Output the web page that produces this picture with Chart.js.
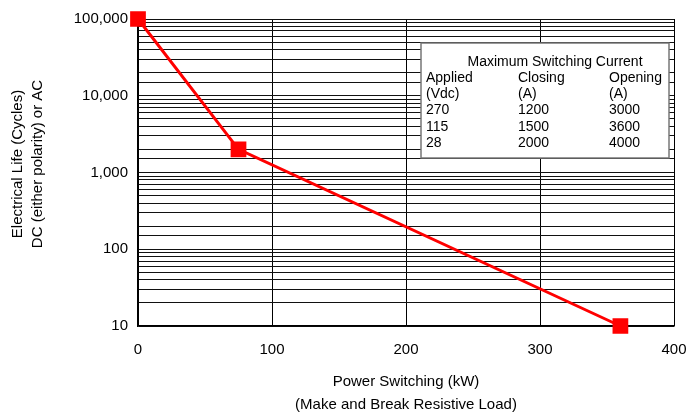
<!DOCTYPE html>
<html>
<head>
<meta charset="utf-8">
<script src="https://cdn.jsdelivr.net/npm/chart.js@4/dist/chart.umd.min.js"></script>
<style>
  body { margin: 0; background: #fff; }
  #wrap { width: 688px; height: 413px; }
</style>
</head>
<body>
<div id="wrap"><canvas id="lifeChart"></canvas></div>
<script>
const powerKw = [0, 75, 360];
const lifeCycles = [100000, 2000, 10];

const xTicks = [0, 100, 200, 300, 400];
const yTitleLines = ['Electrical Life (Cycles)', 'DC (either polarity) or AC'];
const xTitleLines = ['Power Switching (kW)', '(Make and Break Resistive Load)'];

const tableTitle = 'Maximum Switching Current';
const tableHeader = [['Applied', 'Closing', 'Opening'], ['(Vdc)', '(A)', '(A)']];
const tableVolts = ['270', '115', '28'];
const tableClosing = ['1200', '1500', '2000'];
const tableOpening = ['3000', '3600', '4000'];

const FONT = '"Liberation Sans", Arial, sans-serif';

// axis titles and the current table drawn on top
const extras = {
    id: 'extras',
    afterDraw(chart) {
        const ctx = chart.ctx;
        const area = chart.chartArea;
        ctx.save();
        ctx.fillStyle = '#000';
        ctx.font = '15px ' + FONT;
        ctx.textAlign = 'center';
        ctx.textBaseline = 'middle';

        const midX = (area.left + area.right) / 2;
        ctx.fillText(xTitleLines[0], midX, 382);
        ctx.fillText(xTitleLines[1], midX, 405);

        ctx.save();
        ctx.translate(18, 164);
        ctx.rotate(-Math.PI / 2);
        ctx.fillText(yTitleLines[0], 0, 0);
        ctx.restore();
        ctx.save();
        ctx.translate(38, 164);
        ctx.rotate(-Math.PI / 2);
        ctx.fillText(yTitleLines[1], 0, 0);
        ctx.restore();

        // table box
        const bx = 421, by = 43, bw = 248, bh = 115;
        ctx.fillStyle = '#fff';
        ctx.fillRect(bx, by, bw, bh);
        ctx.strokeStyle = '#777';
        ctx.lineWidth = 1.5;
        ctx.strokeRect(bx, by, bw, bh);

        ctx.fillStyle = '#000';
        ctx.font = '14px ' + FONT;
        ctx.fillText(tableTitle, 555, 62);

        ctx.textAlign = 'left';
        const cols = [426, 518, 609];
        let y = 78;
        tableHeader.forEach(row => {
            row.forEach((t, i) => ctx.fillText(t, cols[i], y));
            y += 16.3;
        });
        tableVolts.forEach((v, r) => {
            ctx.fillText(v, cols[0], y);
            ctx.fillText(tableClosing[r], cols[1], y);
            ctx.fillText(tableOpening[r], cols[2], y);
            y += 16.3;
        });
        ctx.restore();
    }
};

new Chart(document.getElementById('lifeChart'), {
    type: 'line',
    data: {
        datasets: [{
            data: powerKw.map((x, i) => ({ x: x, y: lifeCycles[i] })),
            borderColor: '#ff0000',
            backgroundColor: '#ff0000',
            borderWidth: 3,
            pointStyle: 'rect',
            pointRadius: 9,
            pointHoverRadius: 9,
            tension: 0,
            clip: false
        }]
    },
    options: {
        responsive: true,
        maintainAspectRatio: false,
        animation: false,
        layout: { padding: { top: 19, right: 14, left: 0, bottom: 0 } },
        plugins: {
            legend: { display: false },
            tooltip: { enabled: false }
        },
        scales: {
            x: {
                type: 'linear',
                min: 0,
                max: 400,
                afterBuildTicks: scale => { scale.ticks = xTicks.map(v => ({ value: v })); },
                afterFit: scale => {
                    scale.height = 87;
                    scale.paddingLeft = 0;
                    scale.paddingRight = 0;
                },
                grid: { color: '#000', lineWidth: 1, drawTicks: false },
                border: { color: '#000', width: 1.5 },
                ticks: {
                    color: '#000',
                    padding: 15,
                    font: { size: 15, family: FONT },
                    maxRotation: 0
                }
            },
            y: {
                type: 'logarithmic',
                min: 10,
                max: 100000,
                afterFit: scale => {
                    scale.width = 138;
                    scale.paddingTop = 0;
                    scale.paddingBottom = 0;
                },
                grid: { color: '#111', lineWidth: 1, drawTicks: false },
                border: { color: '#000', width: 1.5 },
                ticks: {
                    color: '#000',
                    padding: 10,
                    autoSkip: false,
                    font: { size: 15, family: FONT },
                    callback: value => {
                        const p = Math.log10(value);
                        return Math.abs(p - Math.round(p)) < 1e-9 ? value.toLocaleString('en-US') : '';
                    }
                }
            }
        }
    },
    plugins: [extras]
});
</script>
</body>
</html>
